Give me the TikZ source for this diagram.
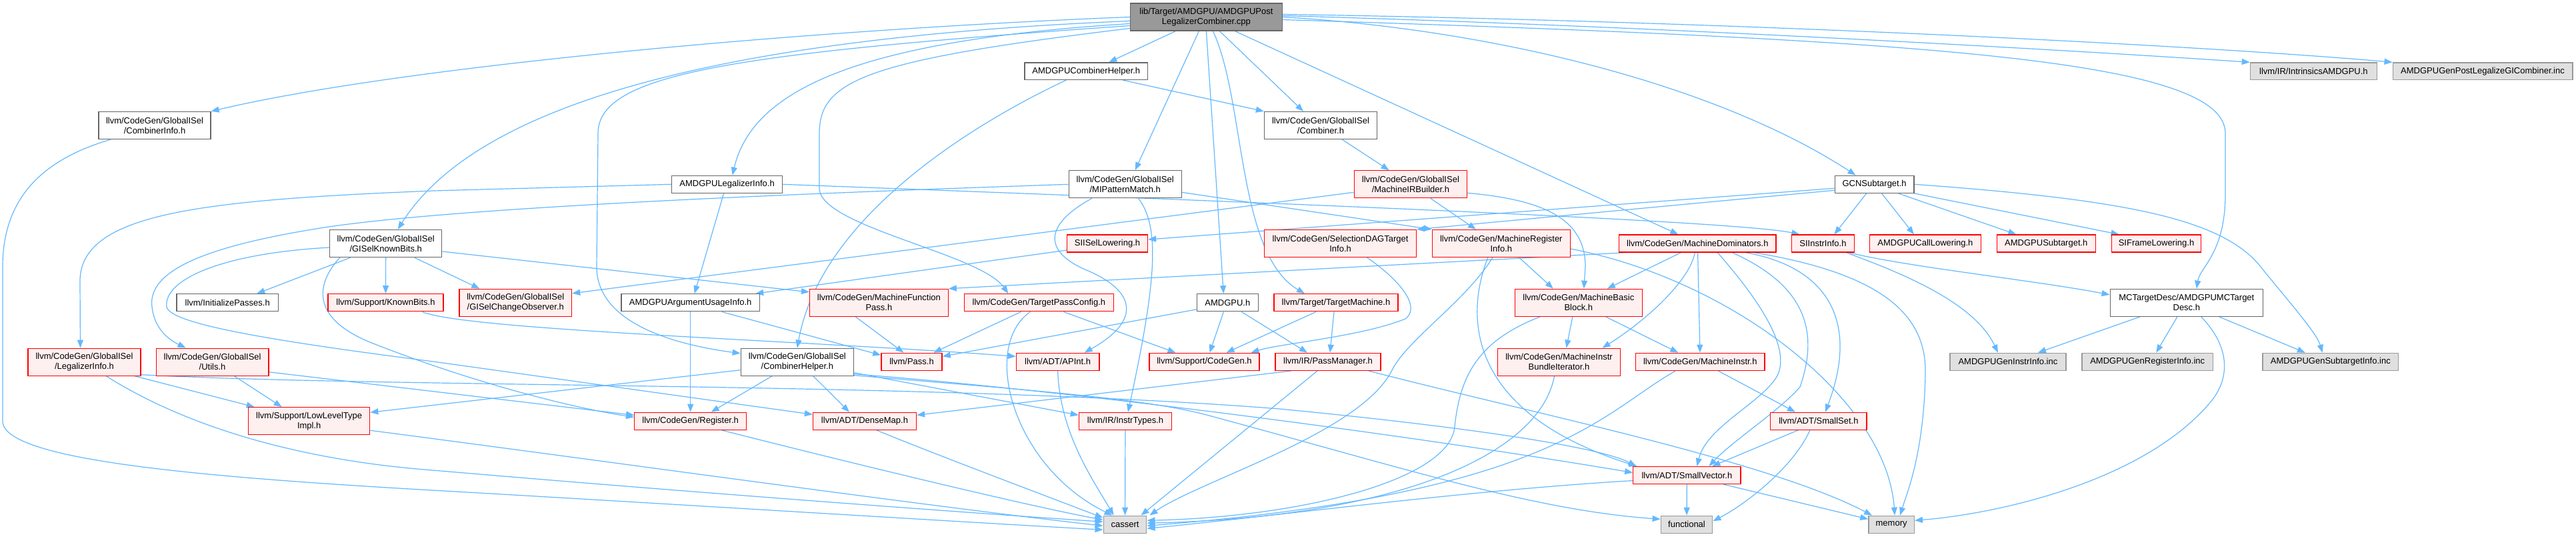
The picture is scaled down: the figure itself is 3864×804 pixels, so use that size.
\documentclass[tikz,border=0pt]{standalone}
\usepackage{fontspec}
\setmainfont{Liberation Sans}
\usetikzlibrary{arrows.meta}
\definecolor{edgec}{HTML}{63B8FF}
\definecolor{wline}{HTML}{666666}
\definecolor{rfill}{HTML}{FFF0F0}
\definecolor{rline}{HTML}{FF0000}
\definecolor{gfill}{HTML}{E0E0E0}
\definecolor{gline}{HTML}{999999}
\definecolor{mfill}{HTML}{999999}
\tikzset{
 nb/.style={rectangle, inner sep=0pt, align=center, font=\fontsize{13}{15}\selectfont, line width=1.3pt},
 wbox/.style={nb, draw=wline, fill=white},
 rbox/.style={nb, draw=rline, fill=rfill},
 gbox/.style={nb, draw=gline, fill=gfill},
 mainbox/.style={nb, draw=wline, fill=mfill},
 edg/.style={draw=edgec, line width=1.2pt, -{Triangle[length=12pt,width=9pt]}},
}
\pgfdeclarelayer{bg}
\pgfsetlayers{bg,main}
\newcommand\mynode[7]{\node[#2,minimum width=#5pt,minimum height=#6pt] (#1) at (#3,#4) {#7};}
\begin{document}
\begin{tikzpicture}[x=1pt,y=-1pt]
\useasboundingbox (0,0) rectangle (3864,804);
% ---------- nodes ----------
\mynode{main}{mainbox}{1809.4}{25.5}{228}{41}{lib/Target/AMDGPU/AMDGPUPost\\LegalizerCombiner.cpp}
\mynode{acomb}{wbox}{1629.3}{106.7}{184.5}{25.5}{AMDGPUCombinerHelper.h}
\mynode{intr}{gbox}{3470.4}{106.7}{190}{25.5}{llvm/IR/IntrinsicsAMDGPU.h}
\mynode{gpost}{gbox}{3724}{106.7}{269.7}{25.5}{AMDGPUGenPostLegalizeGICombiner.inc}
\mynode{cinfo}{wbox}{232}{188}{168}{41}{llvm/CodeGen/GlobalISel\\/CombinerInfo.h}
\mynode{comb}{wbox}{1981}{188}{169}{41}{llvm/CodeGen/GlobalISel\\/Combiner.h}
\mynode{alegal}{wbox}{1090.6}{276.3}{166}{26}{AMDGPULegalizerInfo.h}
\mynode{mip}{wbox}{1687.7}{276.3}{169}{41}{llvm/CodeGen/GlobalISel\\/MIPatternMatch.h}
\mynode{mirb}{rbox}{2115.9}{276.3}{169.5}{41}{llvm/CodeGen/GlobalISel\\/MachineIRBuilder.h}
\mynode{gcn}{wbox}{2811.6}{276.3}{118.6}{26}{GCNSubtarget.h}
\mynode{gkb}{wbox}{578.7}{365}{168}{41}{llvm/CodeGen/GlobalISel\\/GISelKnownBits.h}
\mynode{sisel}{rbox}{1661}{365}{121}{26}{SIISelLowering.h}
\mynode{sdag}{rbox}{2010.6}{365}{227.6}{41}{llvm/CodeGen/SelectionDAGTarget\\Info.h}
\mynode{mri}{rbox}{2251.8}{365}{207}{41}{llvm/CodeGen/MachineRegister\\Info.h}
\mynode{mdom}{rbox}{2546.3}{365}{235.5}{26}{llvm/CodeGen/MachineDominators.h}
\mynode{sii}{rbox}{2734.4}{365}{94}{26}{SIInstrInfo.h}
\mynode{acall}{rbox}{2887.9}{365}{166.6}{26}{AMDGPUCallLowering.h}
\mynode{asub}{rbox}{3069.3}{365}{148}{26}{AMDGPUSubtarget.h}
\mynode{sifl}{rbox}{3234.5}{365}{134.3}{26}{SIFrameLowering.h}
\mynode{initp}{wbox}{341.2}{453.8}{152.5}{26}{llvm/InitializePasses.h}
\mynode{kb}{rbox}{578.5}{453.8}{172.8}{26}{llvm/Support/KnownBits.h}
\mynode{gco}{rbox}{773.3}{453.8}{168.7}{41}{llvm/CodeGen/GlobalISel\\/GISelChangeObserver.h}
\mynode{arg}{wbox}{1035.7}{453.8}{207.7}{26}{AMDGPUArgumentUsageInfo.h}
\mynode{mfp}{rbox}{1318.4}{453.8}{207.6}{41}{llvm/CodeGen/MachineFunction\\Pass.h}
\mynode{tpc}{rbox}{1558.4}{453.8}{224.3}{26}{llvm/CodeGen/TargetPassConfig.h}
\mynode{amdgpu}{wbox}{1841.3}{453.8}{92}{26}{AMDGPU.h}
\mynode{tm}{rbox}{2004}{453.8}{186}{26}{llvm/Target/TargetMachine.h}
\mynode{mbb}{rbox}{2367.8}{453.8}{190.7}{41}{llvm/CodeGen/MachineBasic\\Block.h}
\mynode{mct}{wbox}{3279.8}{453.8}{229.2}{41}{MCTargetDesc/AMDGPUMCTarget\\Desc.h}
\mynode{legal}{rbox}{126.5}{542.7}{169.1}{41}{llvm/CodeGen/GlobalISel\\/LegalizerInfo.h}
\mynode{utils}{rbox}{318.6}{542.7}{168.7}{41}{llvm/CodeGen/GlobalISel\\/Utils.h}
\mynode{ch}{wbox}{1195.9}{542.7}{169.2}{41}{llvm/CodeGen/GlobalISel\\/CombinerHelper.h}
\mynode{pass}{rbox}{1367.5}{542.3}{91.2}{26}{llvm/Pass.h}
\mynode{apint}{rbox}{1586.6}{542.3}{124.7}{26}{llvm/ADT/APInt.h}
\mynode{scg}{rbox}{1806.5}{542.3}{165}{26}{llvm/Support/CodeGen.h}
\mynode{pm}{rbox}{1992}{542.3}{158}{26}{llvm/IR/PassManager.h}
\mynode{mib}{rbox}{2338.5}{542.7}{183.6}{41}{llvm/CodeGen/MachineInstr\\BundleIterator.h}
\mynode{minstr}{rbox}{2550.3}{542.3}{193.5}{26}{llvm/CodeGen/MachineInstr.h}
\mynode{ginst}{gbox}{3011.9}{542.3}{174.1}{26}{AMDGPUGenInstrInfo.inc}
\mynode{greg}{gbox}{3221.2}{542.3}{196.4}{26}{AMDGPUGenRegisterInfo.inc}
\mynode{gsub}{gbox}{3495.8}{542.3}{203.7}{26}{AMDGPUGenSubtargetInfo.inc}
\mynode{llt}{rbox}{463.7}{631.2}{182}{41}{llvm/Support/LowLevelType\\Impl.h}
\mynode{reg}{rbox}{1035.7}{631.3}{168}{26}{llvm/CodeGen/Register.h}
\mynode{dmap}{rbox}{1297}{631.3}{155}{26}{llvm/ADT/DenseMap.h}
\mynode{instr}{rbox}{1688}{631.3}{139.3}{26}{llvm/IR/InstrTypes.h}
\mynode{sset}{rbox}{2727.9}{631.3}{144.3}{26}{llvm/ADT/SmallSet.h}
\mynode{svec}{rbox}{2530.4}{712.5}{161.2}{26}{llvm/ADT/SmallVector.h}
\mynode{cassert}{gbox}{1687.5}{786.2}{64.6}{26}{cassert}
\mynode{func}{gbox}{2530}{786.2}{77.5}{26}{functional}
\mynode{mem}{gbox}{2837.1}{786.2}{68.4}{26}{memory}
% ---------- edges ----------
\begin{pgfonlayer}{bg}
% main
\draw[edg] (main.west) .. controls (1200,45) and (600,100) .. (cinfo.north east);
\draw[edg] ([yshift=-6pt]main.west) .. controls (1000,60) and (700,180) .. ([xshift=18pt]gkb.north);
\draw[edg] ([yshift=-10pt]main.west) .. controls (1300,60) and (1130,130) .. ([xshift=8pt]alegal.north);
\draw[edg] ([yshift=-13pt]main.west) .. controls (1100,80) and (897,110) .. (897,200) -- (895,400) .. controls (895,480) and (1000,515) .. ([yshift=13pt]ch.west);
\draw[edg] ([yshift=-17pt]main.west) .. controls (1300,90) and (1229,120) .. (1229,200) -- (1229,283) .. controls (1232,340) and (1470,380) .. ([xshift=-46pt]tpc.north);
\draw[edg] ([xshift=-46pt]main.south) -- ([xshift=34pt]acomb.north);
\draw[edg] ([xshift=-11pt]main.south) -- ([xshift=15pt]mip.north);
\draw[edg] (main.south) -- ([xshift=-6pt]amdgpu.north);
\draw[edg] ([xshift=10pt]main.south) .. controls (1868,150) and (1855,380) .. ([xshift=-47pt]tm.north);
\draw[edg] ([xshift=20pt]main.south) -- ([xshift=-26pt]comb.north);
\draw[edg] ([xshift=43pt]main.south) -- ([xshift=-29pt]mdom.north);
\draw[edg] (main.east) .. controls (2250,45) and (2580,130) .. ([xshift=-28pt]gcn.north);
\draw[edg] ([yshift=2pt]main.east) .. controls (2500,40) and (3100,75) .. (intr.north west);
\draw[edg] ([yshift=4pt]main.east) .. controls (2600,32) and (3300,68) .. (gpost.north west);
\draw[edg] ([yshift=-4pt]main.east) .. controls (2900,60) and (3338,90) .. (3338,200) -- (3338,290) .. controls (3338,380) and (3300,400) .. ([xshift=15pt]mct.north);
% AMDGPUCombinerHelper
\draw[edg] ([xshift=55pt]acomb.south) -- (comb.north west);
\draw[edg] ([xshift=-30pt]acomb.south) .. controls (1450,190) and (1230,330) .. (ch.north);
% MIPatternMatch
\draw[edg] ([xshift=-50pt]mip.south) .. controls (1560,340) and (1570,380) .. (1630,405) .. controls (1712,440) and (1705,485) .. ([xshift=40pt]apint.north);
\draw[edg] ([xshift=20pt]mip.south) .. controls (1740,340) and (1735,420) .. ([xshift=4pt]instr.north);
\draw[edg] ([yshift=-12pt]mip.east) -- (mri.north west);
\draw[edg] (mip.west) .. controls (1200,290) and (700,310) .. (493,340) .. controls (330,365) and (220,400) .. (228,460) .. controls (232,495) and (255,510) .. ([xshift=-40pt]utils.north);
% SIISelLowering
\draw[edg] ([yshift=-10pt]sisel.west) -- ([xshift=-7pt]arg.north east);
% GCNSubtarget
\draw[edg] ([xshift=-12pt]gcn.south) -- ([xshift=17pt]sii.north);
\draw[edg] ([xshift=11pt]gcn.south) -- ([xshift=-17pt]acall.north);
\draw[edg] ([xshift=36pt]gcn.south) -- ([xshift=-45pt]asub.north);
\draw[edg] (gcn.south east) -- ([xshift=-56pt]sifl.north);
\draw[edg] (gcn.east) .. controls (3200,300) and (3340,330) .. (3395,405) .. controls (3440,460) and (3475,500) .. ([xshift=-12pt]gsub.north);
\draw[edg] ([yshift=-6pt]gcn.west) -- ([yshift=6pt]sisel.east);
\draw[edg] ([yshift=-9pt]gcn.west) -- (sdag.north east);
% SIInstrInfo
\draw[edg] ([xshift=35pt]sii.south) .. controls (2840,405) and (2960,450) .. ([xshift=-15pt]ginst.north);
\draw[edg] ([xshift=39pt]sii.south) .. controls (2860,400) and (3050,420) .. ([yshift=12pt]mct.west);
% MCTargetDesc
\draw[edg] ([xshift=-70pt]mct.south) -- ([xshift=45pt]ginst.north);
\draw[edg] ([xshift=-14pt]mct.south) -- ([xshift=13pt]greg.north);
\draw[edg] ([xshift=49pt]mct.south) -- ([xshift=-38pt]gsub.north);
\draw[edg] ([xshift=22pt]mct.south) .. controls (3345,520) and (3345,565) .. (3318,600) .. controls (3220,720) and (3000,770) .. ([yshift=6pt]mem.east);
% MachineDominators
\draw[edg] ([xshift=-108pt]mdom.south) -- (mfp.north east);
\draw[edg] ([xshift=-25pt]mdom.south) -- ([xshift=43pt]mbb.north);
\draw[edg] ([xshift=-4pt]mdom.south) .. controls (2535,420) and (2470,480) .. ([xshift=65pt]mib.north);
\draw[edg] (mdom) -- (minstr);
\draw[edg] ([xshift=30pt]mdom.south) .. controls (2630,440) and (2690,520) .. (2665,565) .. controls (2640,605) and (2560,640) .. ([xshift=15pt]svec.north);
\draw[edg] ([xshift=52pt]mdom.south) .. controls (2690,420) and (2735,480) .. (2700,580) .. controls (2670,615) and (2600,660) .. ([xshift=33pt]svec.north);
\draw[edg] ([xshift=72pt]mdom.south) .. controls (2740,400) and (2790,480) .. ([xshift=10pt]sset.north);
\draw[edg] ([xshift=85pt]mdom.south) .. controls (2820,410) and (2890,470) .. (2888,560) .. controls (2886,680) and (2860,740) .. ([xshift=13pt]mem.north);
% MachineRegisterInfo
\draw[edg] ([xshift=27pt]mri.south) -- ([xshift=-38pt]mbb.north);
\draw[edg] ([xshift=-13pt]mri.south) .. controls (2200,450) and (2110,510) .. (2088,555) .. controls (2040,650) and (1800,720) .. ([xshift=37pt]cassert.north);
\draw[edg] ([xshift=-20pt]mri.south) .. controls (2195,480) and (2205,620) .. ([xshift=-75pt]svec.north);
\draw[edg] ([yshift=-8pt]mri.east) .. controls (2600,420) and (2830,600) .. ([xshift=5pt]mem.north);
% MachineIRBuilder
\draw[edg] ([yshift=-12pt]mirb.west) -- ([yshift=14pt]gco.east);
\draw[edg] ([xshift=30pt]mirb.south) -- ([xshift=-38pt]mri.north);
\draw[edg] ([yshift=-13pt]mirb.east) .. controls (2320,300) and (2378,330) .. (2378,400) -- ([xshift=8pt]mbb.north);
% Combiner
\draw[edg] (comb) -- (mirb);
% GISelKnownBits
\draw[edg] ([xshift=43pt]gkb.south) -- ([xshift=-54pt]gco.north);
\draw[edg] ([xshift=-53pt]gkb.south) -- ([xshift=44pt]initp.north);
\draw[edg] (gkb) -- (kb);
\draw[edg] ([yshift=-12pt]gkb.east) -- ([yshift=16pt]mfp.west);
\draw[edg] ([xshift=-69pt]gkb.south) .. controls (470,430) and (470,480) .. (560,515) .. controls (700,570) and (850,610) .. ([yshift=6pt]reg.west);
\draw[edg] ([yshift=-6pt]gkb.west) .. controls (330,380) and (245,420) .. (250,460) .. controls (255,485) and (400,510) .. (650,542) -- ([yshift=10pt]dmap.west);
% AMDGPULegalizerInfo
\draw[edg] (alegal.west) -- (650,286) .. controls (300,300) and (122,320) .. (120,420) -- ([xshift=-6pt]legal.north);
\draw[edg] ([xshift=-5pt]alegal.south) -- ([xshift=6pt]arg.north);
\draw[edg] (alegal.east) .. controls (1800,300) and (2600,330) .. ([xshift=-35pt]sii.north);
% LegalizerInfo
\draw[edg] ([xshift=76pt]legal.south) -- ([xshift=-82pt]llt.north);
\draw[edg] ([xshift=33pt]legal.south) .. controls (280,640) and (450,690) .. (650,705) .. controls (1000,735) and (1400,765) .. ([yshift=4pt]cassert.west);
\draw[edg] ([yshift=-19pt]legal.east) .. controls (600,582) and (1400,572) .. (1920,613) .. controls (2200,640) and (2400,670) .. ([xshift=5pt]svec.north west);
% Utils
\draw[edg] ([xshift=33pt]utils.south) -- ([xshift=-41pt]llt.north);
\draw[edg] ([yshift=-15pt]utils.east) -- ([yshift=9pt]reg.west);
% KnownBits
\draw[edg] ([xshift=55pt]kb.south) .. controls (700,495) and (1200,510) .. ([yshift=8pt]apint.west);
% LowLevelTypeImpl
\draw[edg] ([yshift=-14pt]llt.east) .. controls (900,690) and (1400,760) .. ([yshift=-2pt]cassert.west);
% CombinerInfo
\draw[edg] ([xshift=-66pt]cinfo.south) .. controls (60,240) and (4,300) .. (4,400) -- (4,633) .. controls (10,690) and (300,715) .. (650,735) .. controls (1000,755) and (1400,780) .. ([yshift=-8pt]cassert.west);
% CombinerHelper
\draw[edg] ([xshift=-38pt]ch.south) -- ([xshift=31pt]reg.north);
\draw[edg] ([xshift=24pt]ch.south) -- ([xshift=-23pt]dmap.north);
\draw[edg] ([yshift=-12pt]ch.west) -- ([yshift=13pt]llt.east);
\draw[edg] ([yshift=-16pt]ch.east) -- ([yshift=9pt]instr.west);
\draw[edg] ([yshift=-18pt]ch.east) .. controls (1600,585) and (2100,650) .. ([yshift=4pt]svec.west);
\draw[edg] ([yshift=-20pt]ch.east) .. controls (1550,585) and (1720,598) .. (1810,622) .. controls (2100,700) and (2300,765) .. ([yshift=8pt]func.west);
% leaves to cassert
\draw[edg] ([xshift=18pt]dmap.south) .. controls (1400,680) and (1560,740) .. ([yshift=10pt]cassert.west);
\draw[edg] (instr) -- (cassert);
\draw[edg] (apint.south) .. controls (1590,650) and (1640,720) .. ([xshift=-17pt]cassert.north);
\draw[edg] ([xshift=47pt]reg.south) .. controls (1300,700) and (1550,760) .. ([yshift=7pt]cassert.west);
% AMDGPUArgumentUsageInfo
\draw[edg] (arg) -- (reg);
\draw[edg] ([xshift=47pt]arg.south) -- ([yshift=10pt]pass.west);
% MachineFunctionPass
\draw[edg] ([xshift=-35pt]mfp.south) -- ([xshift=-12pt]pass.north);
% TargetPassConfig
\draw[edg] ([xshift=-27pt]tpc.south) -- ([xshift=33pt]pass.north);
\draw[edg] ([xshift=37pt]tpc.south) -- ([xshift=-43pt]scg.north);
\draw[edg] ([xshift=-13pt]tpc.south) .. controls (1470,520) and (1520,700) .. ([xshift=-19pt]cassert.north);
% AMDGPU.h
\draw[edg] ([yshift=-10pt]amdgpu.west) -- ([yshift=8pt]pass.east);
\draw[edg] ([xshift=-6pt]amdgpu.south) -- ([xshift=8pt]scg.north);
\draw[edg] ([xshift=21pt]amdgpu.south) -- ([xshift=-31pt]pm.north);
% TargetMachine
\draw[edg] ([xshift=-30pt]tm.south) -- ([xshift=33pt]scg.north);
\draw[edg] ([xshift=-3pt]tm.south) -- ([xshift=3pt]pm.north);
% SelectionDAGTargetInfo
\draw[edg] ([xshift=40pt]sdag.south) .. controls (2100,420) and (2132,460) .. (2108,478) .. controls (2040,505) and (1920,515) .. ([xshift=70pt]scg.north);
% PassManager
\draw[edg] ([xshift=-55pt]pm.south) -- ([yshift=9pt]dmap.east);
\draw[edg] ([xshift=-16pt]pm.south) -- ([xshift=24pt]cassert.north);
\draw[edg] ([xshift=61pt]pm.south) .. controls (2300,620) and (2650,690) .. ([xshift=-29pt]mem.north);
% MachineBasicBlock
\draw[edg] ([xshift=-9pt]mbb.south) -- ([xshift=11pt]mib.north);
\draw[edg] ([xshift=41pt]mbb.south) -- ([xshift=-33pt]minstr.north);
\draw[edg] ([xshift=-58pt]mbb.south) .. controls (2220,510) and (2190,560) .. (2182,640) .. controls (2174,720) and (1950,775) .. ([yshift=6pt]cassert.east);
% MachineInstrBundleIterator
\draw[edg] ([xshift=-7pt]mib.south) .. controls (2310,680) and (2100,775) .. ([yshift=2pt]cassert.east);
% MachineInstr
\draw[edg] ([xshift=-37pt]minstr.south) .. controls (2400,620) and (2330,740) .. ([yshift=-2pt]cassert.east);
\draw[edg] ([xshift=27pt]minstr.south) -- ([xshift=-35pt]sset.north);
% SmallSet
\draw[edg] ([xshift=-31pt]sset.south) -- ([xshift=38pt]svec.north);
\draw[edg] ([xshift=-13pt]sset.south) .. controls (2690,700) and (2620,755) .. ([yshift=5pt]func.east);
% SmallVector
\draw[edg] (svec) -- (func);
\draw[edg] ([xshift=55pt]svec.south) -- ([yshift=8pt]mem.west);
\draw[edg] ([yshift=-8pt]svec.west) .. controls (2200,735) and (1900,775) .. ([yshift=-6pt]cassert.east);
\end{pgfonlayer}
\end{tikzpicture}
\end{document}
